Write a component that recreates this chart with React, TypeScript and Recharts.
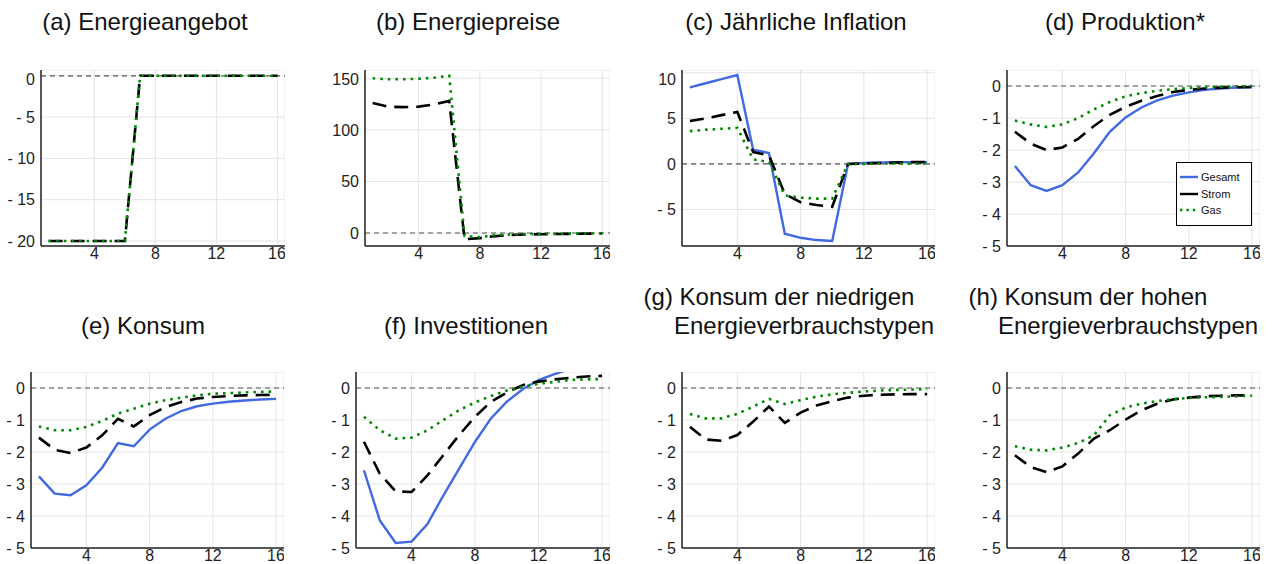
import { LineChart, Line, XAxis, YAxis, CartesianGrid, ReferenceLine } from "recharts";

const quarters = [1, 2, 3, 4, 5, 6, 7, 8, 9, 10, 11, 12, 13, 14, 15, 16];
const xTicks = [4, 8, 12, 16];

// (a) Energieangebot
const angebotStrom = [-20, -20, -20, -20, -20, -20, 0, 0, 0, 0, 0, 0, 0, 0, 0, 0];
const angebotGas = [-20, -20, -20, -20, -20, -20, 0, 0, 0, 0, 0, 0, 0, 0, 0, 0];

// (b) Energiepreise
const preiseStrom = [126, 122.5, 122, 122.5, 124.5, 128, -6, -5, -3, -2, -1.5, -1.2, -1, -0.8, -0.6, -0.5];
const preiseGas = [150, 149, 149, 149.5, 150.5, 152.5, -3, -4, -2, -1.5, -1, -1, -0.8, -0.6, -0.5, -0.4];

// (c) Jährliche Inflation
const inflationGesamt = [8.4, 8.85, 9.3, 9.75, 1.55, 1.2, -7.65, -8.1, -8.35, -8.45, 0, 0.1, 0.15, 0.2, 0.2, 0.2];
const inflationStrom = [4.7, 5.0, 5.35, 5.7, 1.3, 0.95, -3.3, -4.2, -4.5, -4.7, 0, 0.05, 0.1, 0.15, 0.2, 0.2];
const inflationGas = [3.6, 3.75, 3.85, 3.95, 0.5, 0.2, -3.45, -3.7, -3.8, -3.8, 0, 0, 0.05, 0.05, 0.05, 0.05];

// (d) Produktion*
const produktionGesamt = [-2.5, -3.1, -3.28, -3.1, -2.7, -2.1, -1.43, -0.98, -0.67, -0.45, -0.3, -0.2, -0.12, -0.08, -0.05, -0.04];
const produktionStrom = [-1.43, -1.8, -2.0, -1.92, -1.65, -1.25, -0.9, -0.65, -0.46, -0.31, -0.19, -0.12, -0.08, -0.05, -0.04, -0.03];
const produktionGas = [-1.08, -1.2, -1.28, -1.2, -1.0, -0.73, -0.5, -0.32, -0.22, -0.15, -0.1, -0.06, -0.04, -0.02, -0.01, 0];

// (e) Konsum
const konsumGesamt = [-2.76, -3.3, -3.35, -3.04, -2.49, -1.72, -1.82, -1.3, -0.96, -0.72, -0.57, -0.49, -0.43, -0.39, -0.36, -0.34];
const konsumStrom = [-1.55, -1.93, -2.03, -1.86, -1.48, -0.96, -1.2, -0.85, -0.6, -0.44, -0.33, -0.28, -0.25, -0.23, -0.22, -0.21];
const konsumGas = [-1.2, -1.32, -1.32, -1.22, -1.03, -0.8, -0.65, -0.49, -0.38, -0.3, -0.23, -0.18, -0.16, -0.14, -0.12, -0.11];

// (f) Investitionen
const investGesamt = [-2.57, -4.14, -4.84, -4.8, -4.25, -3.36, -2.52, -1.68, -0.95, -0.43, -0.04, 0.25, 0.43, 0.6, 0.68, 0.72];
const investStrom = [-1.68, -2.68, -3.23, -3.25, -2.73, -2.1, -1.47, -0.9, -0.43, -0.14, 0.09, 0.2, 0.27, 0.32, 0.36, 0.38];
const investGas = [-0.9, -1.32, -1.58, -1.55, -1.32, -1.0, -0.69, -0.45, -0.25, -0.08, 0.04, 0.13, 0.19, 0.25, 0.27, 0.28];

// (g) Konsum der niedrigen Energieverbrauchstypen
const niedrigStrom = [-1.21, -1.61, -1.65, -1.47, -1.05, -0.58, -1.09, -0.77, -0.55, -0.41, -0.3, -0.24, -0.21, -0.2, -0.19, -0.19];
const niedrigGas = [-0.81, -0.95, -0.95, -0.81, -0.58, -0.34, -0.5, -0.38, -0.27, -0.2, -0.15, -0.11, -0.08, -0.06, -0.05, -0.04];

// (h) Konsum der hohen Energieverbrauchstypen
const hochStrom = [-2.1, -2.47, -2.63, -2.45, -2.05, -1.58, -1.32, -0.99, -0.7, -0.49, -0.36, -0.3, -0.26, -0.24, -0.23, -0.23];
const hochGas = [-1.82, -1.93, -1.95, -1.86, -1.72, -1.48, -0.85, -0.61, -0.49, -0.41, -0.35, -0.31, -0.29, -0.28, -0.26, -0.24];

const BLUE = "#4169e1";
const GREEN = "#008a00";
const FONT = "'Liberation Sans', Arial, Helvetica, sans-serif";
const Y_AXIS_W = 46;
const X_AXIS_H = 24;

const SERIES = [
  { key: "gesamt", name: "Gesamt", color: BLUE, dash: undefined, width: 2.4 },
  { key: "strom", name: "Strom", color: "#000", dash: "14 8", width: 2.6 },
  { key: "gas", name: "Gas", color: GREEN, dash: "2.6 5", width: 2.6 },
];

type PanelDef = {
  title: string[];
  titleX: number[];
  titleY: number[];
  left: number;
  top: number;
  w: number;
  h: number;
  domain: [number, number];
  ticks: number[];
  gesamt?: number[];
  strom: number[];
  gas: number[];
};

const panels: PanelDef[] = [
  { title: ["(a) Energieangebot"], titleX: [145], titleY: [22], left: 41, top: 70, w: 244, h: 176,
    domain: [-20.6, 0.7], ticks: [-20, -15, -10, -5, 0], strom: angebotStrom, gas: angebotGas },
  { title: ["(b) Energiepreise"], titleX: [468], titleY: [22], left: 365, top: 70, w: 245, h: 176,
    domain: [-12.6, 158], ticks: [0, 50, 100, 150], strom: preiseStrom, gas: preiseGas },
  { title: ["(c) Jährliche Inflation"], titleX: [796], titleY: [22], left: 682, top: 70, w: 253, h: 176,
    domain: [-9, 10.3], ticks: [-5, 0, 5, 10], gesamt: inflationGesamt, strom: inflationStrom, gas: inflationGas },
  { title: ["(d) Produktion*"], titleX: [1125], titleY: [22], left: 1007, top: 70, w: 253, h: 176,
    domain: [-5, 0.5], ticks: [-5, -4, -3, -2, -1, 0], gesamt: produktionGesamt, strom: produktionStrom, gas: produktionGas },
  { title: ["(e) Konsum"], titleX: [143], titleY: [326], left: 31, top: 372, w: 253, h: 176,
    domain: [-5, 0.5], ticks: [-5, -4, -3, -2, -1, 0], gesamt: konsumGesamt, strom: konsumStrom, gas: konsumGas },
  { title: ["(f) Investitionen"], titleX: [466], titleY: [326], left: 356, top: 372, w: 254, h: 176,
    domain: [-5, 0.5], ticks: [-5, -4, -3, -2, -1, 0], gesamt: investGesamt, strom: investStrom, gas: investGas },
  { title: ["(g) Konsum der niedrigen", "Energieverbrauchstypen"], titleX: [779, 804], titleY: [297, 326], left: 682, top: 372, w: 253, h: 176,
    domain: [-5, 0.5], ticks: [-5, -4, -3, -2, -1, 0], strom: niedrigStrom, gas: niedrigGas },
  { title: ["(h) Konsum der hohen", "Energieverbrauchstypen"], titleX: [1088, 1128], titleY: [297, 326], left: 1007, top: 372, w: 253, h: 176,
    domain: [-5, 0.5], ticks: [-5, -4, -3, -2, -1, 0], strom: hochStrom, gas: hochGas },
];

const fmtY = (v: number) => (v < 0 ? `- ${Math.abs(v)}` : String(v));

// legend box sits inside panel (d)
function LegendBox() {
  return (
    <div style={{ position: "absolute", left: 1176, top: 162, width: 76, height: 64, boxSizing: "border-box", border: "1px solid #000",
      background: "#fff", padding: "6px 0 0 2px", fontFamily: FONT, fontSize: 11, lineHeight: "16.5px", color: "#111" }}>
      {SERIES.map((s) => (
        <div key={s.key} style={{ display: "flex", alignItems: "center" }}>
          <svg width={19} height={8} style={{ marginRight: 3 }}>
            <line x1={1} y1={4} x2={19} y2={4} stroke={s.color} strokeWidth={2.4} strokeDasharray={s.key === "gas" ? "2.4 4" : undefined} />
          </svg>
          <span>{s.name}</span>
        </div>
      ))}
    </div>
  );
}

function Panel({ p }: { p: PanelDef }) {
  const data = quarters.map((q, i) => ({
    q,
    gesamt: p.gesamt ? p.gesamt[i] : undefined,
    strom: p.strom[i],
    gas: p.gas[i],
  }));
  const shown = SERIES.filter((s) => s.key !== "gesamt" || p.gesamt);
  return (
    <>
      {p.title.map((t, i) => (
        <div key={t} style={{ position: "absolute", left: p.titleX[i] - 200, top: p.titleY[i] - 14, width: 400, textAlign: "center",
          fontFamily: FONT, fontSize: 24, lineHeight: "28px", color: "#111", whiteSpace: "nowrap" }}>
          {t}
        </div>
      ))}
      <div style={{ position: "absolute", left: p.left - Y_AXIS_W, top: p.top }}>
        <LineChart width={p.w + Y_AXIS_W} height={p.h + X_AXIS_H} data={data} margin={{ top: 0, right: 0, bottom: 0, left: 0 }}>
          <CartesianGrid stroke="#e4e4e4" strokeWidth={1} />
          <XAxis dataKey="q" type="number" domain={[0.5, 16.5]} ticks={xTicks} allowDataOverflow height={X_AXIS_H}
            tickLine={false} tickSize={2} tickMargin={0} axisLine={{ stroke: "#222", strokeWidth: 1.5 }}
            tick={{ fontSize: 16, fill: "#222", fontFamily: FONT }} />
          <YAxis type="number" domain={p.domain} ticks={p.ticks} allowDataOverflow width={Y_AXIS_W} tickFormatter={fmtY}
            tickLine={false} tickSize={3} tickMargin={3} axisLine={{ stroke: "#222", strokeWidth: 1.5 }}
            tick={{ fontSize: 16, fill: "#222", fontFamily: FONT }} />
          <ReferenceLine y={0} stroke="#555" strokeDasharray="5 4" strokeWidth={1.2} />
          {shown.map((s) => (
            <Line key={s.key} type="linear" dataKey={s.key} name={s.name} stroke={s.color} strokeWidth={s.width}
              strokeDasharray={s.dash} dot={false} activeDot={false} isAnimationActive={false} />
          ))}
        </LineChart>
      </div>
    </>
  );
}

export default function App() {
  return (
    <div style={{ position: "absolute", left: 0, top: 0, width: 1275, height: 564, background: "#fff", overflow: "hidden" }}>
      {panels.map((p) => (
        <Panel key={p.title[0]} p={p} />
      ))}
      <LegendBox />
    </div>
  );
}
